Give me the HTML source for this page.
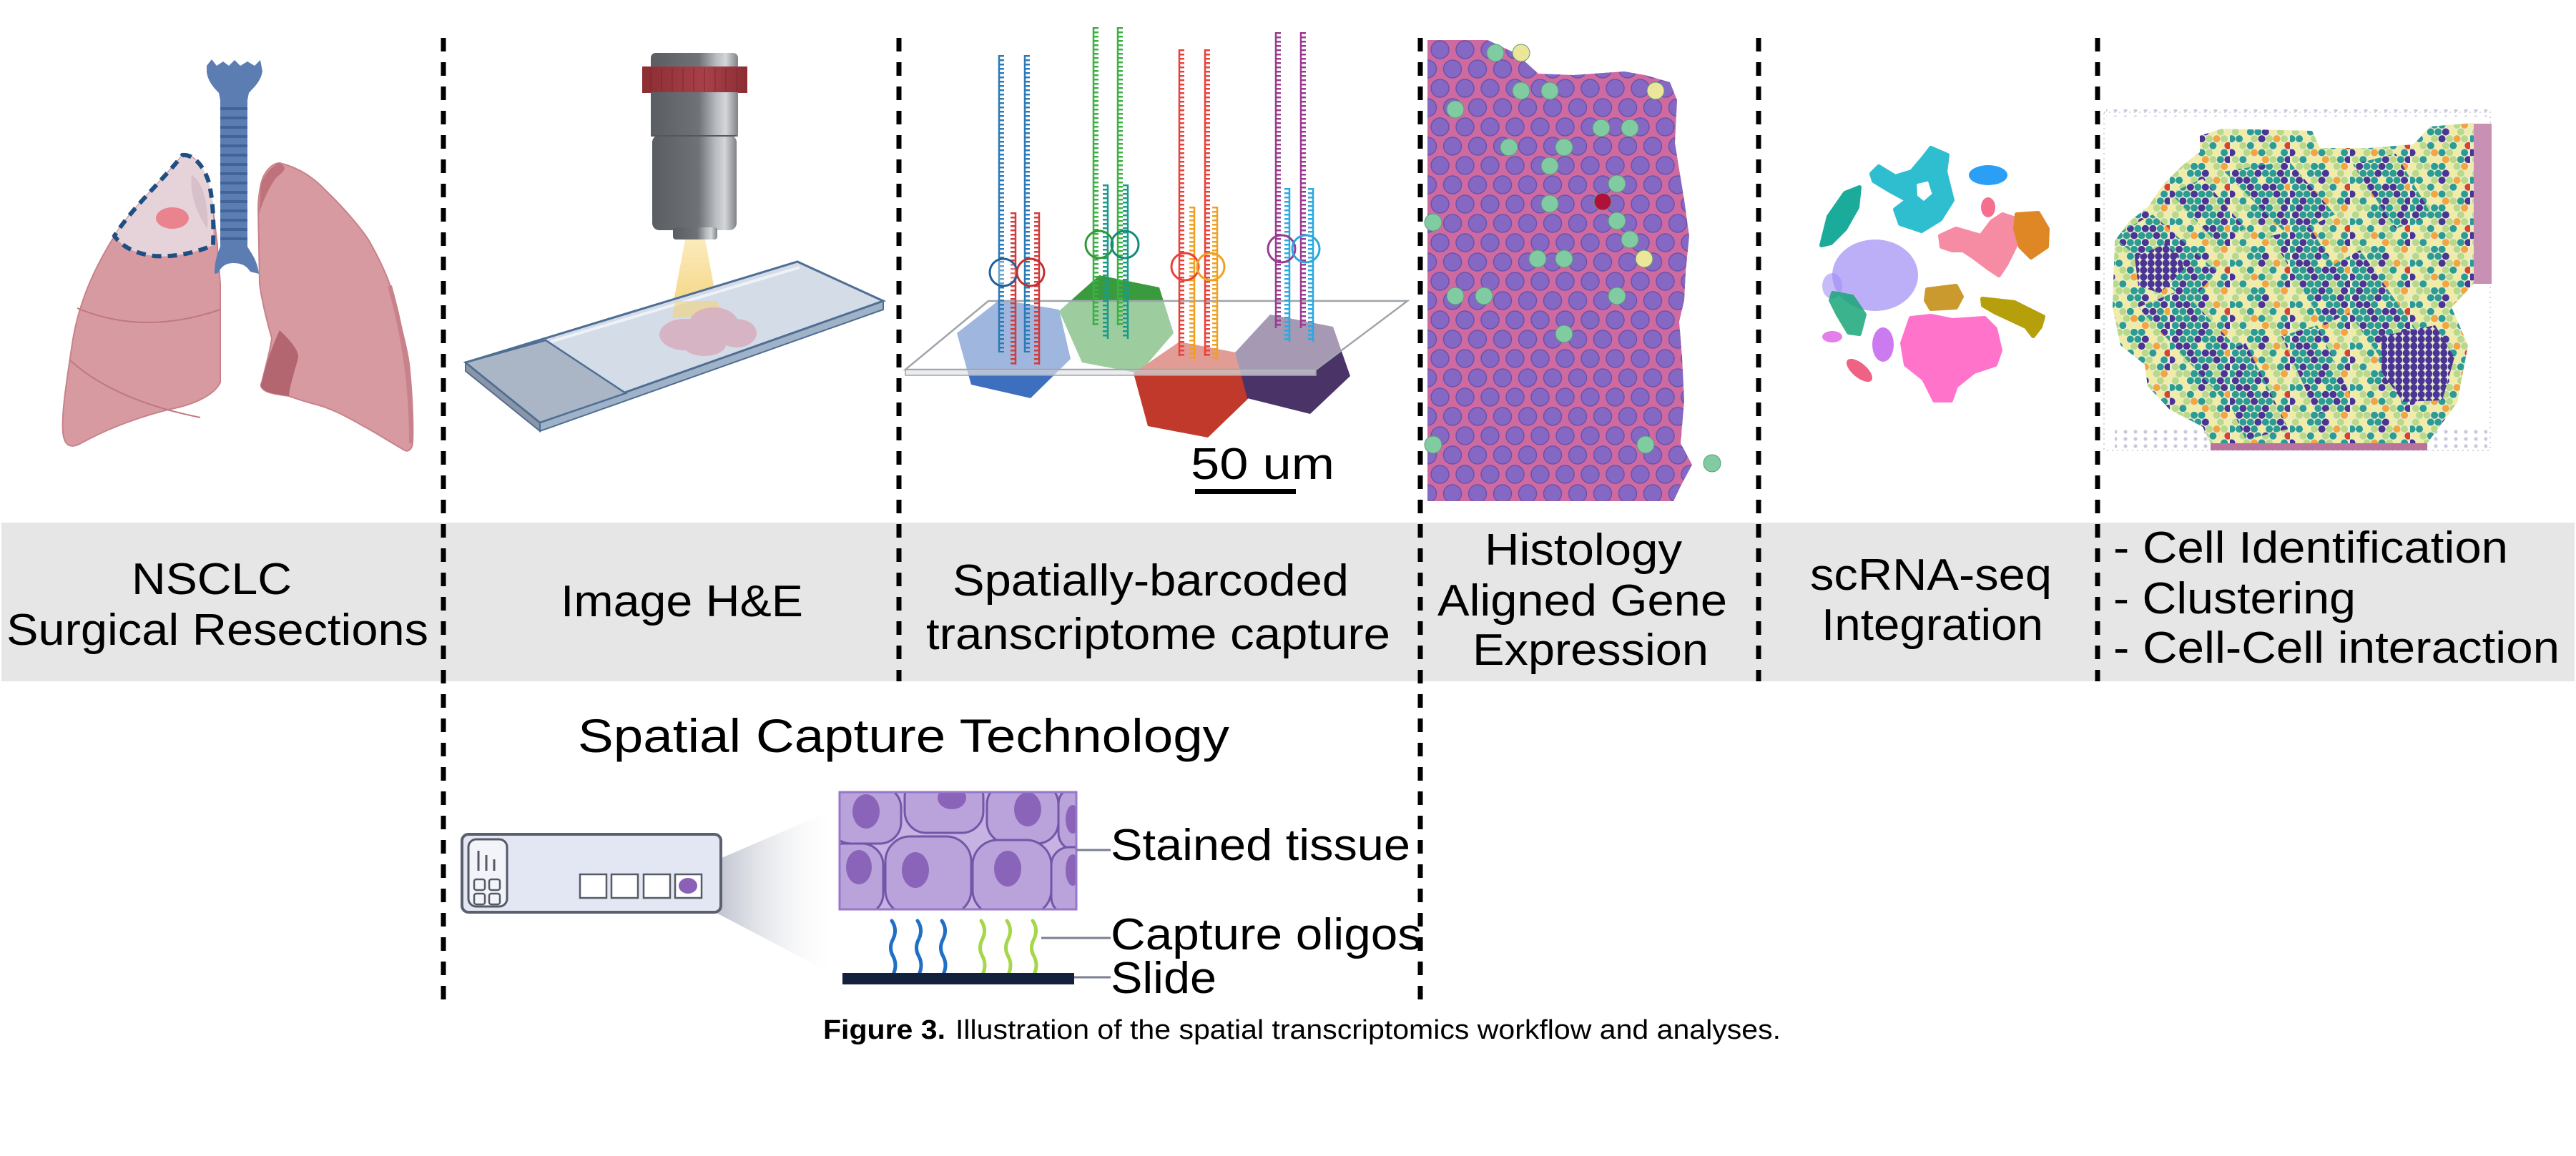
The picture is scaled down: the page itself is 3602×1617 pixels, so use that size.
<!DOCTYPE html>
<html>
<head>
<meta charset="utf-8">
<style>
html,body{margin:0;padding:0;background:#fff;}
svg{display:block;}
text{font-family:"Liberation Sans",Arial,sans-serif;fill:#000;}
</style>
</head>
<body>
<svg width="3602" height="1617" viewBox="0 0 3602 1617" xmlns="http://www.w3.org/2000/svg">
<defs>
  <linearGradient id="mg" x1="0" x2="1" y1="0" y2="0">
    <stop offset="0" stop-color="#5a5d61"/>
    <stop offset="0.55" stop-color="#6f7276"/>
    <stop offset="0.75" stop-color="#b8bbbf"/>
    <stop offset="0.86" stop-color="#d4d6d9"/>
    <stop offset="1" stop-color="#7f8286"/>
  </linearGradient>
  <linearGradient id="rg" x1="0" x2="1">
    <stop offset="0" stop-color="#8c2e33"/>
    <stop offset="0.6" stop-color="#a8404a"/>
    <stop offset="1" stop-color="#8c2e33"/>
  </linearGradient>
  <linearGradient id="lightg" x1="0" x2="0" y1="0" y2="1">
    <stop offset="0" stop-color="#fbe9b4"/>
    <stop offset="1" stop-color="#f3d27a"/>
  </linearGradient>
  <linearGradient id="coneg" x1="0" x2="1">
    <stop offset="0" stop-color="#aeb2c2"/>
    <stop offset="1" stop-color="#ffffff" stop-opacity="0.2"/>
  </linearGradient>
  <pattern id="histo" patternUnits="userSpaceOnUse" x="1996" y="56" width="35" height="54">
    <circle cx="17.5" cy="13.5" r="12.5" fill="#8468c4" stroke="#6c52ac" stroke-width="1.5"/>
    <circle cx="0" cy="40.5" r="12.5" fill="#8468c4" stroke="#6c52ac" stroke-width="1.5"/>
    <circle cx="35" cy="40.5" r="12.5" fill="#8468c4" stroke="#6c52ac" stroke-width="1.5"/>
  </pattern>
  <pattern id="spat" patternUnits="userSpaceOnUse" x="2950" y="170" width="84" height="58">
    <circle cx="2.6" cy="4.8" r="5" fill="#f1eca0"/><circle cx="13.1" cy="4.8" r="5" fill="#b9d989"/><circle cx="23.6" cy="4.8" r="5" fill="#b9d989"/><circle cx="34.1" cy="4.8" r="5" fill="#2c9c93"/><circle cx="44.6" cy="4.8" r="5" fill="#2c9c93"/><circle cx="55.1" cy="4.8" r="5" fill="#f1eca0"/><circle cx="65.6" cy="4.8" r="5" fill="#b9d989"/><circle cx="76.1" cy="4.8" r="5" fill="#f2a541"/>
    <circle cx="7.85" cy="14.5" r="5" fill="#b9d989"/><circle cx="18.35" cy="14.5" r="5" fill="#f1eca0"/><circle cx="28.85" cy="14.5" r="5" fill="#2c9c93"/><circle cx="39.35" cy="14.5" r="5" fill="#2c9c93"/><circle cx="49.85" cy="14.5" r="5" fill="#4a3494"/><circle cx="60.35" cy="14.5" r="5" fill="#f1eca0"/><circle cx="70.85" cy="14.5" r="5" fill="#b9d989"/><circle cx="81.35" cy="14.5" r="5" fill="#f1eca0"/>
    <circle cx="2.6" cy="24.1" r="5" fill="#2c9c93"/><circle cx="13.1" cy="24.1" r="5" fill="#2c9c93"/><circle cx="23.6" cy="24.1" r="5" fill="#f1eca0"/><circle cx="34.1" cy="24.1" r="5" fill="#b9d989"/><circle cx="44.6" cy="24.1" r="5" fill="#4a3494"/><circle cx="55.1" cy="24.1" r="5" fill="#b9d989"/><circle cx="65.6" cy="24.1" r="5" fill="#f2a541"/><circle cx="76.1" cy="24.1" r="5" fill="#b9d989"/>
    <circle cx="7.85" cy="33.8" r="5" fill="#f1eca0"/><circle cx="18.35" cy="33.8" r="5" fill="#b9d989"/><circle cx="28.85" cy="33.8" r="5" fill="#2c9c93"/><circle cx="39.35" cy="33.8" r="5" fill="#f1eca0"/><circle cx="49.85" cy="33.8" r="5" fill="#b9d989"/><circle cx="60.35" cy="33.8" r="5" fill="#2c9c93"/><circle cx="70.85" cy="33.8" r="5" fill="#f1eca0"/><circle cx="81.35" cy="33.8" r="5" fill="#d8452a"/>
    <circle cx="2.6" cy="43.5" r="5" fill="#4a3494"/><circle cx="13.1" cy="43.5" r="5" fill="#f1eca0"/><circle cx="23.6" cy="43.5" r="5" fill="#b9d989"/><circle cx="34.1" cy="43.5" r="5" fill="#f2a541"/><circle cx="44.6" cy="43.5" r="5" fill="#2c9c93"/><circle cx="55.1" cy="43.5" r="5" fill="#b9d989"/><circle cx="65.6" cy="43.5" r="5" fill="#f1eca0"/><circle cx="76.1" cy="43.5" r="5" fill="#2c9c93"/>
    <circle cx="7.85" cy="53.2" r="5" fill="#b9d989"/><circle cx="18.35" cy="53.2" r="5" fill="#2c9c93"/><circle cx="28.85" cy="53.2" r="5" fill="#f1eca0"/><circle cx="39.35" cy="53.2" r="5" fill="#f1eca0"/><circle cx="49.85" cy="53.2" r="5" fill="#f2a541"/><circle cx="60.35" cy="53.2" r="5" fill="#b9d989"/><circle cx="70.85" cy="53.2" r="5" fill="#2c9c93"/><circle cx="81.35" cy="53.2" r="5" fill="#4a3494"/>
  </pattern>
  <pattern id="dk" patternUnits="userSpaceOnUse" x="2950" y="170" width="84" height="58">
    <rect x="0" y="0" width="84" height="58" fill="#e8ecd0"/>
    <circle cx="2.6" cy="4.8" r="5" fill="#2c9c93"/><circle cx="13.1" cy="4.8" r="5" fill="#4a3494"/><circle cx="23.6" cy="4.8" r="5" fill="#2c9c93"/><circle cx="34.1" cy="4.8" r="5" fill="#2c9c93"/><circle cx="44.6" cy="4.8" r="5" fill="#4a3494"/><circle cx="55.1" cy="4.8" r="5" fill="#2c9c93"/><circle cx="65.6" cy="4.8" r="5" fill="#b9d989"/><circle cx="76.1" cy="4.8" r="5" fill="#4a3494"/>
    <circle cx="7.85" cy="14.5" r="5" fill="#4a3494"/><circle cx="18.35" cy="14.5" r="5" fill="#2c9c93"/><circle cx="28.85" cy="14.5" r="5" fill="#2c9c93"/><circle cx="39.35" cy="14.5" r="5" fill="#4a3494"/><circle cx="49.85" cy="14.5" r="5" fill="#2c9c93"/><circle cx="60.35" cy="14.5" r="5" fill="#2c9c93"/><circle cx="70.85" cy="14.5" r="5" fill="#4a3494"/><circle cx="81.35" cy="14.5" r="5" fill="#2c9c93"/>
    <circle cx="2.6" cy="24.1" r="5" fill="#2c9c93"/><circle cx="13.1" cy="24.1" r="5" fill="#4a3494"/><circle cx="23.6" cy="24.1" r="5" fill="#4a3494"/><circle cx="34.1" cy="24.1" r="5" fill="#2c9c93"/><circle cx="44.6" cy="24.1" r="5" fill="#f1eca0"/><circle cx="55.1" cy="24.1" r="5" fill="#2c9c93"/><circle cx="65.6" cy="24.1" r="5" fill="#2c9c93"/><circle cx="76.1" cy="24.1" r="5" fill="#4a3494"/>
    <circle cx="7.85" cy="33.8" r="5" fill="#2c9c93"/><circle cx="18.35" cy="33.8" r="5" fill="#2c9c93"/><circle cx="28.85" cy="33.8" r="5" fill="#4a3494"/><circle cx="39.35" cy="33.8" r="5" fill="#2c9c93"/><circle cx="49.85" cy="33.8" r="5" fill="#4a3494"/><circle cx="60.35" cy="33.8" r="5" fill="#4a3494"/><circle cx="70.85" cy="33.8" r="5" fill="#2c9c93"/><circle cx="81.35" cy="33.8" r="5" fill="#f2a541"/>
    <circle cx="2.6" cy="43.5" r="5" fill="#4a3494"/><circle cx="13.1" cy="43.5" r="5" fill="#2c9c93"/><circle cx="23.6" cy="43.5" r="5" fill="#2c9c93"/><circle cx="34.1" cy="43.5" r="5" fill="#4a3494"/><circle cx="44.6" cy="43.5" r="5" fill="#2c9c93"/><circle cx="55.1" cy="43.5" r="5" fill="#2c9c93"/><circle cx="65.6" cy="43.5" r="5" fill="#4a3494"/><circle cx="76.1" cy="43.5" r="5" fill="#2c9c93"/>
    <circle cx="7.85" cy="53.2" r="5" fill="#2c9c93"/><circle cx="18.35" cy="53.2" r="5" fill="#4a3494"/><circle cx="28.85" cy="53.2" r="5" fill="#2c9c93"/><circle cx="39.35" cy="53.2" r="5" fill="#2c9c93"/><circle cx="49.85" cy="53.2" r="5" fill="#4a3494"/><circle cx="60.35" cy="53.2" r="5" fill="#b9d989"/><circle cx="70.85" cy="53.2" r="5" fill="#2c9c93"/><circle cx="81.35" cy="53.2" r="5" fill="#4a3494"/>
  </pattern>
  <pattern id="purp" patternUnits="userSpaceOnUse" x="2950" y="170" width="10.5" height="9.67">
    <rect width="10.5" height="9.67" fill="#e8ecd0"/>
    <circle cx="5.25" cy="4.8" r="5" fill="#4a3494"/>
  </pattern>
  <pattern id="grayd" patternUnits="userSpaceOnUse" width="14" height="10">
    <circle cx="4" cy="4" r="2.6" fill="#c9c8dc"/>
  </pattern>
  <clipPath id="histclip">
    <polygon points="1996,56 2080,56 2120,75 2151,103 2200,105 2271,100 2300,105 2335,115 2345,140 2342,200 2355,280 2362,330 2357,380 2355,420 2348,450 2352,500 2355,560 2350,620 2366,650 2350,680 2340,701 1996,701"/>
  </clipPath>
  <clipPath id="tissclip">
    <polygon points="3076,190 3107,180 3233,183 3244,207 3313,207 3375,202 3398,177 3459,172 3459,397 3428,430 3451,483 3436,563 3394,620 3091,620 3080,597 3034,573 3003,540 2999,510 2965,483 2954,430 2957,337 2977,310 3003,290 3026,257 3053,230 3076,213"/>
  </clipPath>
  <clipPath id="cellclip">
    <rect x="1174" y="1108" width="331" height="164"/>
  </clipPath>
</defs>

<rect x="0" y="0" width="3602" height="1617" fill="#fff"/>

<!-- ============ LUNGS ============ -->
<g>
  <path d="M255,217 C230,250 185,290 160,330 C135,370 110,420 101,481 C92,540 86,580 88,605 C90,625 100,628 115,619 C150,600 200,580 253,569 C275,563 300,552 308,535 L308,397 C306,370 304,355 304,343 C300,310 297,280 290,255 C283,230 270,215 255,217 Z" fill="#d89aa1" stroke="#c88289" stroke-width="2"/>
  <path d="M108,431 Q200,470 308,433" fill="none" stroke="#c07880" stroke-width="2"/>
  <path d="M98,504 Q160,560 280,584" fill="none" stroke="#c07880" stroke-width="2"/>
  <path d="M255,217 C270,215 285,232 292,255 C298,280 299,310 298,343 C270,355 240,360 215,358 C190,355 170,345 160,330 C185,290 230,250 255,217 Z" fill="#e6d2d9" stroke="#1e4f82" stroke-width="6" stroke-dasharray="13 9"/>
  <path d="M268,245 C285,255 292,290 290,320 C275,300 265,270 268,245 Z" fill="#d8c0ca"/>
  <ellipse cx="241" cy="305" rx="23" ry="15" fill="#e9838d"/>
  <path d="M391,228 C420,235 440,250 456,267 C485,295 505,320 515,335 C535,370 548,400 552,424 C565,470 572,500 573,519 C577,560 578,600 577,619 C576,630 570,632 566,630 C540,615 520,602 508,596 C480,580 460,570 439,565 C420,560 410,556 404,554 C390,552 375,550 370,546 C364,542 364,538 366,535 C372,510 378,490 380,473 C372,445 366,420 363,397 L361,290 C362,265 366,250 370,244 C375,235 383,228 391,228 Z" fill="#d89aa1" stroke="#c88289" stroke-width="2"/>
  <path d="M391,462 C405,475 418,490 417,500 C412,520 405,540 404,554 C390,552 375,550 370,546 C364,542 364,538 366,535 C372,510 378,490 391,462 Z" fill="#b46670"/>
  <path d="M391,228 C380,232 368,245 365,260 L362,300 C368,280 375,265 385,250 C395,240 405,236 391,228 Z" fill="#c0727a"/>
  <path d="M545,400 C565,470 575,540 575,620" fill="none" stroke="#c88289" stroke-width="6"/>
  <path d="M289,92 L296,83 L303,92 L312,86 L320,92 L328,84 L336,92 L346,86 L356,92 L364,84 L367,100 C364,115 355,122 348,130 L346,140 L308,140 L306,130 C298,122 290,112 289,100 Z" fill="#5c7db2"/>
  <rect x="308" y="130" width="38" height="222" fill="#5c7db2"/>
  <g stroke="#40639a" stroke-width="4">
    <line x1="308" y1="152" x2="346" y2="152"/><line x1="308" y1="165" x2="346" y2="165"/><line x1="308" y1="178" x2="346" y2="178"/><line x1="308" y1="191" x2="346" y2="191"/><line x1="308" y1="204" x2="346" y2="204"/><line x1="308" y1="217" x2="346" y2="217"/><line x1="308" y1="230" x2="346" y2="230"/><line x1="308" y1="243" x2="346" y2="243"/><line x1="308" y1="256" x2="346" y2="256"/><line x1="308" y1="269" x2="346" y2="269"/><line x1="308" y1="282" x2="346" y2="282"/><line x1="308" y1="295" x2="346" y2="295"/><line x1="308" y1="308" x2="346" y2="308"/><line x1="308" y1="321" x2="346" y2="321"/><line x1="308" y1="334" x2="346" y2="334"/>
  </g>
  <path d="M308,345 L346,345 C352,355 360,365 362,383 L350,380 C345,372 338,368 327,368 C316,368 310,372 305,382 L300,383 C300,365 304,355 308,345 Z" fill="#5c7db2"/>
</g>

<!-- ============ MICROSCOPE + SLIDE ============ -->
<g>
  <polygon points="958,335 986,335 1003,426 941,426" fill="url(#lightg)" opacity="0.9"/>
  <rect x="910" y="74" width="122" height="24" rx="7" fill="url(#mg)"/>
  <rect x="898" y="93" width="147" height="37" fill="url(#rg)"/>
  <g stroke="#7c2529" stroke-width="1.5" opacity="0.6">
    <line x1="910" y1="95" x2="910" y2="128"/><line x1="925" y1="95" x2="925" y2="128"/><line x1="940" y1="95" x2="940" y2="128"/><line x1="955" y1="95" x2="955" y2="128"/><line x1="970" y1="95" x2="970" y2="128"/><line x1="985" y1="95" x2="985" y2="128"/><line x1="1000" y1="95" x2="1000" y2="128"/><line x1="1015" y1="95" x2="1015" y2="128"/><line x1="1030" y1="95" x2="1030" y2="128"/>
  </g>
  <rect x="910" y="129" width="122" height="62" fill="url(#mg)"/>
  <rect x="912" y="189" width="118" height="133" rx="10" fill="url(#mg)"/>
  <line x1="912" y1="190" x2="1030" y2="190" stroke="#54575b" stroke-width="2"/>
  <rect x="941" y="318" width="62" height="17" rx="4" fill="url(#mg)"/>

  <polygon points="651,507 651,519 755,603 755,591" fill="#8a96a8" stroke="#4f6e93" stroke-width="2"/>
  <polygon points="755,591 1235,421 1235,433 755,603" fill="#9fb2c8" stroke="#4f6e93" stroke-width="2"/>
  <polygon points="651,507 1115,366 1235,421 755,591" fill="#d4dce8" stroke="#4f6e93" stroke-width="3"/>
  <line x1="770" y1="478" x2="1118" y2="374" stroke="#eef2f8" stroke-width="4"/>
  <polygon points="651,507 763,476 875,550 755,591" fill="#aab5c6" stroke="#4f6e93" stroke-width="2.5"/>
  <polygon points="944,421 1003,421 1010,440 940,445" fill="#f3d27a" opacity="0.6"/>
  <g fill="#d8b0c1" opacity="0.9">
    <ellipse cx="958" cy="468" rx="36" ry="22"/>
    <ellipse cx="998" cy="452" rx="34" ry="22"/>
    <ellipse cx="1030" cy="466" rx="28" ry="20"/>
    <ellipse cx="985" cy="482" rx="30" ry="16"/>
  </g>
</g>

<!-- ============ OLIGO / HEXAGONS ============ -->
<g>
  <polygon points="1398,419 1481,433 1497,502 1441,557 1358,538 1338,466" fill="#3e6fbf"/>
  <polygon points="1537,385 1621,402 1641,466 1593,522 1513,507 1481,435" fill="#3a9a3e"/>
  <polygon points="1649,478 1728,493 1748,555 1689,612 1605,596 1585,522" fill="#c0392b"/>
  <polygon points="1776,440 1864,457 1888,526 1832,579 1744,557 1727,493" fill="#4a3366"/>
  <polygon points="1266,517 1382,421 1968,421 1840,517" fill="#ffffff" fill-opacity="0.5" stroke="#a0a4aa" stroke-width="2.5"/>
  <polygon points="1266,517 1840,517 1840,525 1266,525" fill="#e2e4e8" fill-opacity="0.7" stroke="#a0a4aa" stroke-width="1.5"/>

  <g fill="none">
    <g stroke="#2c7ab5"><line x1="1397" y1="77" x2="1397" y2="493" stroke-width="2.5"/><line x1="1401" y1="77" x2="1401" y2="493" stroke-width="6" stroke-dasharray="2.5 3.5"/>
    <line x1="1433" y1="77" x2="1433" y2="493" stroke-width="2.5"/><line x1="1437" y1="77" x2="1437" y2="493" stroke-width="6" stroke-dasharray="2.5 3.5"/></g>
    <g stroke="#d33a3a"><line x1="1420" y1="297" x2="1420" y2="510" stroke-width="2.5"/><line x1="1416" y1="297" x2="1416" y2="510" stroke-width="6" stroke-dasharray="2.5 3.5"/>
    <line x1="1453" y1="297" x2="1453" y2="510" stroke-width="2.5"/><line x1="1449" y1="297" x2="1449" y2="510" stroke-width="6" stroke-dasharray="2.5 3.5"/></g>
    <circle cx="1403" cy="381" r="19" stroke="#1f5f9a" stroke-width="3" fill="#fff" fill-opacity="0.3"/>
    <circle cx="1441" cy="381" r="19" stroke="#c03030" stroke-width="3"/>
    <g stroke="#3cb043"><line x1="1529" y1="38" x2="1529" y2="455" stroke-width="2.5"/><line x1="1533" y1="38" x2="1533" y2="455" stroke-width="6" stroke-dasharray="2.5 3.5"/>
    <line x1="1563" y1="38" x2="1563" y2="455" stroke-width="2.5"/><line x1="1567" y1="38" x2="1567" y2="455" stroke-width="6" stroke-dasharray="2.5 3.5"/></g>
    <g stroke="#1a9a8a"><line x1="1549" y1="258" x2="1549" y2="474" stroke-width="2.5"/><line x1="1545" y1="258" x2="1545" y2="474" stroke-width="6" stroke-dasharray="2.5 3.5"/>
    <line x1="1577" y1="258" x2="1577" y2="474" stroke-width="2.5"/><line x1="1573" y1="258" x2="1573" y2="474" stroke-width="6" stroke-dasharray="2.5 3.5"/></g>
    <circle cx="1537" cy="342" r="19" stroke="#2f9a37" stroke-width="3"/>
    <circle cx="1573" cy="342" r="19" stroke="#168a7a" stroke-width="3"/>
    <g stroke="#e8413a"><line x1="1649" y1="69" x2="1649" y2="498" stroke-width="2.5"/><line x1="1653" y1="69" x2="1653" y2="498" stroke-width="6" stroke-dasharray="2.5 3.5"/>
    <line x1="1685" y1="69" x2="1685" y2="498" stroke-width="2.5"/><line x1="1689" y1="69" x2="1689" y2="498" stroke-width="6" stroke-dasharray="2.5 3.5"/></g>
    <g stroke="#f0a020"><line x1="1670" y1="289" x2="1670" y2="502" stroke-width="2.5"/><line x1="1666" y1="289" x2="1666" y2="502" stroke-width="6" stroke-dasharray="2.5 3.5"/>
    <line x1="1702" y1="289" x2="1702" y2="502" stroke-width="2.5"/><line x1="1698" y1="289" x2="1698" y2="502" stroke-width="6" stroke-dasharray="2.5 3.5"/></g>
    <circle cx="1657" cy="373" r="19" stroke="#e8413a" stroke-width="3"/>
    <circle cx="1693" cy="373" r="19" stroke="#f0a020" stroke-width="3"/>
    <g stroke="#9b3a8f"><line x1="1784" y1="45" x2="1784" y2="459" stroke-width="2.5"/><line x1="1788" y1="45" x2="1788" y2="459" stroke-width="6" stroke-dasharray="2.5 3.5"/>
    <line x1="1819" y1="45" x2="1819" y2="459" stroke-width="2.5"/><line x1="1823" y1="45" x2="1823" y2="459" stroke-width="6" stroke-dasharray="2.5 3.5"/></g>
    <g stroke="#2aa8e0"><line x1="1803" y1="263" x2="1803" y2="478" stroke-width="2.5"/><line x1="1799" y1="263" x2="1799" y2="478" stroke-width="6" stroke-dasharray="2.5 3.5"/>
    <line x1="1836" y1="263" x2="1836" y2="478" stroke-width="2.5"/><line x1="1832" y1="263" x2="1832" y2="478" stroke-width="6" stroke-dasharray="2.5 3.5"/></g>
    <circle cx="1792" cy="348" r="19" stroke="#9b3a8f" stroke-width="3"/>
    <circle cx="1826" cy="348" r="19" stroke="#2aa8e0" stroke-width="3"/>
  </g>
  <text x="1665" y="670" font-size="62" textLength="201" lengthAdjust="spacingAndGlyphs">50 um</text>
  <rect x="1671" y="684" width="141" height="7" fill="#000"/>
</g>

<!-- ============ HISTOLOGY ============ -->
<g clip-path="url(#histclip)">
  <rect x="1990" y="50" width="380" height="660" fill="#cf6aa0"/>
  <rect x="1990" y="50" width="380" height="660" fill="url(#histo)"/>
</g>
<g stroke="#5c9a7a" stroke-width="1">
  <g fill="#80cba2">
    <circle cx="2091" cy="74" r="12"/><circle cx="2127" cy="127" r="12"/><circle cx="2167" cy="127" r="12"/><circle cx="2035" cy="153" r="12"/><circle cx="2239" cy="179" r="12"/><circle cx="2279" cy="179" r="12"/><circle cx="2110" cy="206" r="12"/><circle cx="2187" cy="206" r="12"/><circle cx="2167" cy="232" r="12"/><circle cx="2261" cy="257" r="12"/><circle cx="2167" cy="285" r="12"/><circle cx="2004" cy="311" r="12"/><circle cx="2261" cy="309" r="12"/><circle cx="2279" cy="335" r="12"/><circle cx="2150" cy="362" r="12"/><circle cx="2187" cy="362" r="12"/><circle cx="2035" cy="414" r="12"/><circle cx="2075" cy="414" r="12"/><circle cx="2261" cy="414" r="12"/><circle cx="2187" cy="467" r="12"/><circle cx="2004" cy="622" r="12"/><circle cx="2301" cy="622" r="12"/><circle cx="2394" cy="648" r="12"/>
  </g>
  <g fill="#ece69a"><circle cx="2127" cy="74" r="12"/><circle cx="2315" cy="127" r="12"/><circle cx="2299" cy="362" r="12"/></g>
  <circle cx="2241" cy="282" r="12" fill="#b0103c"/>
</g>

<!-- ============ tSNE ============ -->
<g stroke-linejoin="round" stroke-width="6">
  <path fill-rule="evenodd" d="M2617,243 L2627,233 L2650,247 L2673,240 L2690,220 L2700,207 L2723,217 L2720,240 L2730,280 L2713,307 L2687,323 L2657,313 L2650,293 L2667,280 L2643,267 L2620,253 Z M2677,255 L2698,250 L2705,272 L2690,285 L2678,275 Z" fill="#19b6cc" stroke="#19b6cc" opacity="0.9"/>
  <ellipse cx="2780" cy="245" rx="27" ry="14" fill="#2b9ef5"/>
  <polygon points="2547,343 2557,303 2580,270 2600,262 2597,290 2580,320 2560,340" fill="#1aab9a" stroke="#1aab9a"/>
  <ellipse cx="2622" cy="385" rx="60" ry="50" fill="#a290f4" opacity="0.72"/>
  <ellipse cx="2562" cy="400" rx="14" ry="18" fill="#a290f4" opacity="0.6"/>
  <polygon points="2563,410 2590,415 2607,440 2600,467 2585,465 2570,440 2560,420" fill="#1aa67a" stroke="#1aa67a" opacity="0.85"/>
  <polygon points="2713,330 2735,320 2770,330 2785,310 2800,300 2815,305 2820,340 2805,370 2795,385 2780,375 2760,360 2745,350 2730,350 2715,345" fill="#f4708e" stroke="#f4708e" opacity="0.8"/>
  <ellipse cx="2780" cy="290" rx="10" ry="14" fill="#f4708e"/>
  <polygon points="2820,300 2850,298 2863,320 2862,345 2840,360 2825,345 2818,320" fill="#de8724" stroke="#de8724"/>
  <polygon points="2695,405 2735,400 2743,415 2735,430 2700,432 2693,420" fill="#c69018" stroke="#c69018" opacity="0.9"/>
  <polygon points="2772,418 2817,423 2857,443 2853,457 2843,470 2833,457 2790,437 2773,427" fill="#b5a00c" stroke="#b5a00c"/>
  <polygon points="2672,445 2700,442 2730,448 2775,445 2790,460 2797,490 2790,510 2760,520 2735,540 2728,560 2705,560 2690,530 2665,510 2660,480" fill="#ff64c6" stroke="#ff64c6" opacity="0.9"/>
  <ellipse cx="2633" cy="482" rx="15" ry="24" fill="#cc7af0"/>
  <ellipse cx="2562" cy="471" rx="14" ry="8" fill="#e47ee8"/>
  <ellipse cx="2600" cy="518" rx="22" ry="10" fill="#ef6283" transform="rotate(40 2600 518)"/>
</g>

<!-- ============ SPATIAL MAP ============ -->
<g>
  <rect x="2942" y="157" width="540" height="473" fill="none" stroke="#d6d6e4" stroke-width="2" stroke-dasharray="2 5"/>
  <rect x="2945" y="153" width="533" height="10" fill="url(#grayd)"/>
  <rect x="2957" y="597" width="134" height="31" fill="url(#grayd)"/>
  <rect x="3394" y="597" width="84" height="31" fill="url(#grayd)"/>
  <rect x="3459" y="173" width="25" height="224" fill="#c890b2"/>
  <rect x="3091" y="608" width="303" height="22" fill="#b9739c"/>
  <g clip-path="url(#tissclip)">
    <rect x="2950" y="170" width="512" height="455" fill="#e8ecd0"/>
    <rect x="2950" y="170" width="512" height="455" fill="url(#spat)"/>
    <g fill="url(#dk)">
      <polygon points="2955,330 3010,300 3100,380 3060,425"/>
      <polygon points="2990,430 3050,405 3160,520 3110,560"/>
      <polygon points="3110,240 3200,225 3265,300 3200,330"/>
      <polygon points="3245,380 3300,350 3420,520 3370,560"/>
      <polygon points="3090,500 3140,480 3200,600 3140,615"/>
      <polygon points="3175,330 3230,318 3300,430 3250,455"/>
      <polygon points="3290,230 3350,215 3400,300 3350,320"/>
      <polygon points="3035,270 3080,250 3140,320 3100,340"/>
      <polygon points="3190,470 3240,455 3290,560 3240,580"/>
    </g>
    <polygon points="3330,470 3405,455 3432,500 3415,560 3360,562 3330,520" fill="url(#purp)"/>
    <polygon points="2985,360 3030,340 3055,375 3020,410 2990,400" fill="url(#purp)"/>
  </g>
</g>

<!-- ============ GRAY BAND ============ -->
<rect x="2" y="731" width="3598" height="222" fill="#e6e6e6"/>

<g font-size="62">
  <text x="184" y="831" textLength="224" lengthAdjust="spacingAndGlyphs">NSCLC</text>
  <text x="9" y="902" textLength="590" lengthAdjust="spacingAndGlyphs">Surgical Resections</text>
  <text x="784" y="862" textLength="339" lengthAdjust="spacingAndGlyphs">Image H&amp;E</text>
  <text x="1332" y="833" textLength="554" lengthAdjust="spacingAndGlyphs">Spatially-barcoded</text>
  <text x="1295" y="908" textLength="649" lengthAdjust="spacingAndGlyphs">transcriptome capture</text>
  <text x="2076" y="790" textLength="276" lengthAdjust="spacingAndGlyphs">Histology</text>
  <text x="2010" y="861" textLength="405" lengthAdjust="spacingAndGlyphs">Aligned Gene</text>
  <text x="2059" y="930" textLength="330" lengthAdjust="spacingAndGlyphs">Expression</text>
  <text x="2531" y="825" textLength="338" lengthAdjust="spacingAndGlyphs">scRNA-seq</text>
  <text x="2547" y="895" textLength="310" lengthAdjust="spacingAndGlyphs">Integration</text>
  <text x="2955" y="787" textLength="552" lengthAdjust="spacingAndGlyphs">- Cell Identification</text>
  <text x="2955" y="858" textLength="339" lengthAdjust="spacingAndGlyphs">- Clustering</text>
  <text x="2955" y="927" textLength="624" lengthAdjust="spacingAndGlyphs">- Cell-Cell interaction</text>
</g>

<!-- ============ SPATIAL CAPTURE TECHNOLOGY ============ -->
<text x="808" y="1052" font-size="66" textLength="911" lengthAdjust="spacingAndGlyphs">Spatial Capture Technology</text>

<polygon points="979,1213 1160,1135 1160,1360 979,1265" fill="url(#coneg)"/>
<rect x="646" y="1167" width="362" height="109" rx="9" fill="#e3e7f3" stroke="#5a6070" stroke-width="4"/>
<rect x="655" y="1174" width="54" height="94" rx="11" fill="#f2f4f9" stroke="#555a66" stroke-width="3"/>
<g stroke="#555a66" stroke-width="3">
  <line x1="669" y1="1190" x2="669" y2="1218"/><line x1="680" y1="1196" x2="680" y2="1218"/><line x1="691" y1="1202" x2="691" y2="1218"/>
</g>
<g fill="none" stroke="#555a66" stroke-width="2.5">
  <rect x="663" y="1230" width="15" height="15" rx="3"/><rect x="684" y="1230" width="15" height="15" rx="3"/>
  <rect x="663" y="1250" width="15" height="15" rx="3"/><rect x="684" y="1250" width="15" height="15" rx="3"/>
</g>
<g fill="#fff" stroke="#555a66" stroke-width="2.5">
  <rect x="811" y="1223" width="37" height="33"/><rect x="855" y="1223" width="37" height="33"/>
  <rect x="900" y="1223" width="37" height="33"/><rect x="944" y="1223" width="37" height="33"/>
</g>
<ellipse cx="962" cy="1239" rx="13" ry="11" fill="#8a60b8"/>

<rect x="1174" y="1108" width="331" height="164" fill="#c6b3e2"/>
<g clip-path="url(#cellclip)" stroke="#7356a8" stroke-width="3" fill="#b9a3da">
  <rect x="1160" y="1100" width="100" height="80" rx="30"/>
  <rect x="1265" y="1085" width="110" height="80" rx="30"/>
  <rect x="1380" y="1095" width="100" height="85" rx="30"/>
  <rect x="1480" y="1100" width="60" height="90" rx="25"/>
  <rect x="1150" y="1180" width="85" height="100" rx="30"/>
  <rect x="1238" y="1170" width="120" height="110" rx="35"/>
  <rect x="1360" y="1175" width="110" height="105" rx="35"/>
  <rect x="1470" y="1185" width="70" height="95" rx="25"/>
  <g fill="#8a64b8" stroke="none">
    <ellipse cx="1211" cy="1135" rx="19" ry="24"/>
    <ellipse cx="1331" cy="1116" rx="20" ry="16"/>
    <ellipse cx="1437" cy="1132" rx="19" ry="24"/>
    <ellipse cx="1500" cy="1146" rx="10" ry="20"/>
    <ellipse cx="1201" cy="1213" rx="18" ry="24"/>
    <ellipse cx="1280" cy="1217" rx="19" ry="25"/>
    <ellipse cx="1409" cy="1215" rx="19" ry="25"/>
    <ellipse cx="1500" cy="1217" rx="10" ry="22"/>
  </g>
</g>
<rect x="1174" y="1108" width="331" height="164" fill="none" stroke="#9677c8" stroke-width="3"/>

<g fill="none" stroke-width="5" stroke-linecap="round">
  <g stroke="#1f6fc5">
    <path d="M1247,1288 q8,12 2,25 q-7,13 0,25 q6,12 0,25"/>
    <path d="M1283,1288 q8,12 2,25 q-7,13 0,25 q6,12 0,25"/>
    <path d="M1317,1288 q8,12 2,25 q-7,13 0,25 q6,12 0,25"/>
  </g>
  <g stroke="#a6d64a">
    <path d="M1372,1288 q8,12 2,25 q-7,13 0,25 q6,12 0,25"/>
    <path d="M1408,1288 q8,12 2,25 q-7,13 0,25 q6,12 0,25"/>
    <path d="M1444,1288 q8,12 2,25 q-7,13 0,25 q6,12 0,25"/>
  </g>
</g>
<rect x="1178" y="1361" width="324" height="16" fill="#13213f"/>

<g stroke="#7a8090" stroke-width="3">
  <line x1="1505" y1="1189" x2="1553" y2="1189"/>
  <line x1="1456" y1="1312" x2="1553" y2="1312"/>
  <line x1="1502" y1="1367" x2="1553" y2="1367"/>
</g>
<g font-size="62">
  <text x="1553" y="1203" textLength="419" lengthAdjust="spacingAndGlyphs">Stained tissue</text>
  <text x="1553" y="1328" textLength="435" lengthAdjust="spacingAndGlyphs">Capture oligos</text>
  <text x="1553" y="1389" textLength="148" lengthAdjust="spacingAndGlyphs">Slide</text>
</g>

<g stroke="#000" stroke-width="7" stroke-dasharray="19 15">
  <line x1="620" y1="53" x2="620" y2="1408"/>
  <line x1="1257" y1="53" x2="1257" y2="953"/>
  <line x1="1986" y1="53" x2="1986" y2="1408"/>
  <line x1="2459" y1="53" x2="2459" y2="953"/>
  <line x1="2933" y1="53" x2="2933" y2="953"/>
</g>

<text x="1151" y="1453" font-size="38" font-weight="bold" textLength="171" lengthAdjust="spacingAndGlyphs">Figure 3.</text>
<text x="1336" y="1453" font-size="38" textLength="1154" lengthAdjust="spacingAndGlyphs">Illustration of the spatial transcriptomics workflow and analyses.</text>
</svg>
</body>
</html>
